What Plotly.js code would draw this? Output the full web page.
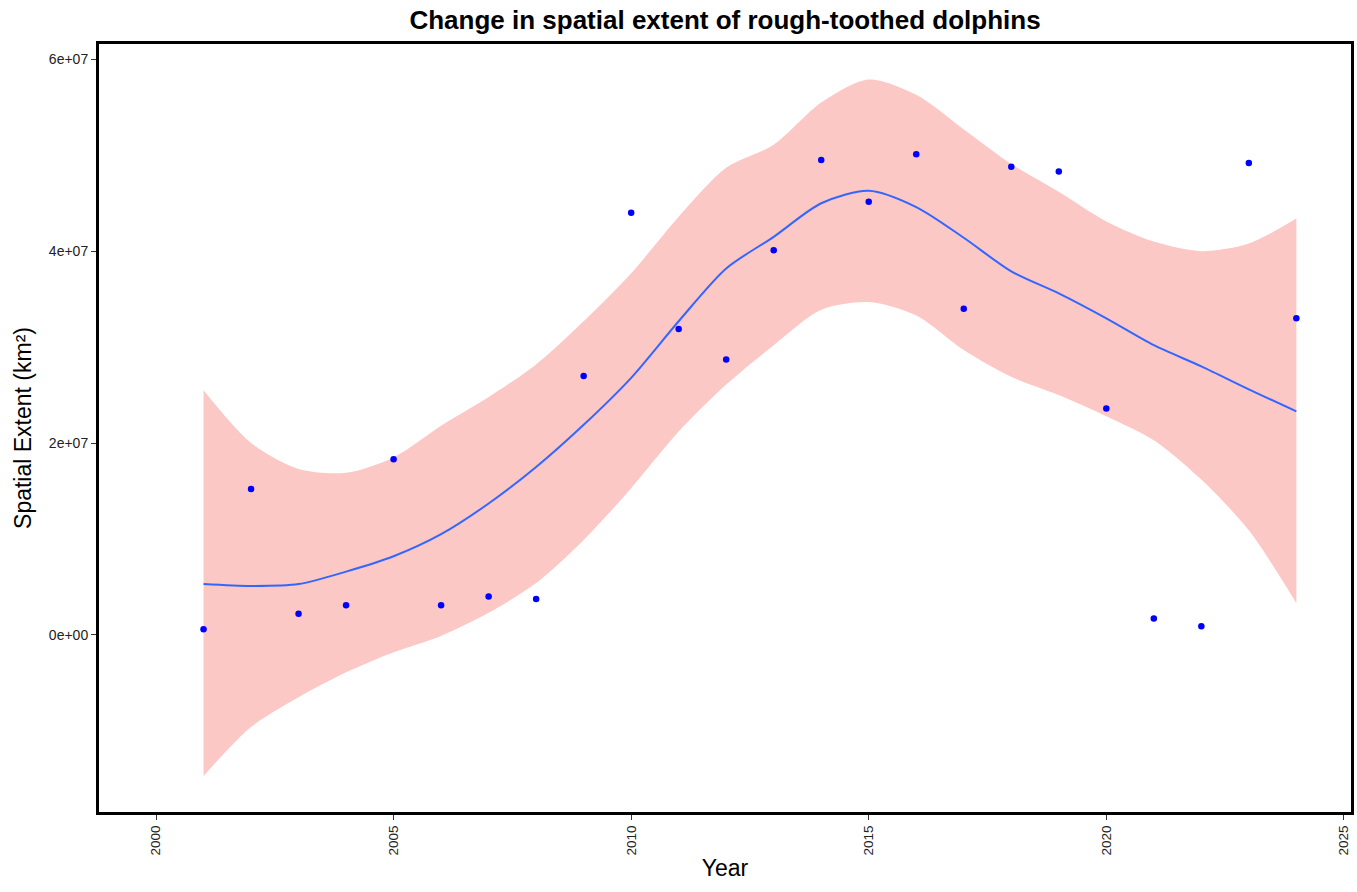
<!DOCTYPE html>
<html>
<head>
<meta charset="utf-8">
<script src="https://cdn.plot.ly/plotly-3.0.1.min.js"></script>
<style>
  html, body { margin: 0; padding: 0; background: #fff; }
  #chart { width: 1357px; height: 892px; }
</style>
</head>
<body>
<div id="chart"></div>
<script>
// Observed yearly spatial extent (km²)
const years = [2001, 2002, 2003, 2004, 2005, 2006, 2007, 2008, 2009, 2010, 2011, 2012,
               2013, 2014, 2015, 2016, 2017, 2018, 2019, 2020, 2021, 2022, 2023, 2024];
const extent = [0.06e7, 1.52e7, 0.22e7, 0.31e7, 1.83e7, 0.31e7, 0.40e7, 0.375e7, 2.70e7, 4.40e7, 3.19e7, 2.87e7,
                4.01e7, 4.95e7, 4.515e7, 5.01e7, 3.40e7, 4.88e7, 4.83e7, 2.36e7, 0.17e7, 0.09e7, 4.92e7, 3.30e7];

// Smoothed trend and its confidence band, sampled at each year
const smoothYears = [2001, 2002, 2003, 2004, 2005, 2006, 2007, 2008, 2009, 2010, 2011, 2012,
                     2013, 2014, 2015, 2016, 2017, 2018, 2019, 2020, 2021, 2022, 2023, 2024];
const smoothFit = [0.53e7, 0.51e7, 0.53e7, 0.66e7, 0.82e7, 1.05e7, 1.37e7, 1.75e7, 2.19e7, 2.68e7, 3.27e7, 3.82e7,
                   4.15e7, 4.50e7, 4.63e7, 4.46e7, 4.14e7, 3.79e7, 3.56e7, 3.30e7, 3.02e7, 2.80e7, 2.56e7, 2.33e7];
const bandUpper = [2.55e7, 2.00e7, 1.73e7, 1.69e7, 1.85e7, 2.18e7, 2.48e7, 2.82e7, 3.27e7, 3.77e7, 4.36e7, 4.87e7,
                   5.11e7, 5.55e7, 5.79e7, 5.63e7, 5.27e7, 4.91e7, 4.62e7, 4.31e7, 4.10e7, 4.00e7, 4.08e7, 4.34e7];
const bandLower = [-1.47e7, -0.96e7, -0.65e7, -0.39e7, -0.18e7, -0.01e7, 0.23e7, 0.54e7, 0.99e7, 1.53e7, 2.12e7, 2.61e7,
                   3.02e7, 3.39e7, 3.47e7, 3.33e7, 2.97e7, 2.69e7, 2.50e7, 2.28e7, 2.03e7, 1.62e7, 1.09e7, 0.33e7];

// Axis ticks
const xTicks = [2000, 2005, 2010, 2015, 2020, 2025];
const yTickVals = [0, 2e7, 4e7, 6e7];
const yTickText = ['0e+00', '2e+07', '4e+07', '6e+07'];

const traces = [
  {
    x: smoothYears, y: bandLower, type: 'scatter', mode: 'lines',
    line: { width: 0, shape: 'spline', smoothing: 0.8 }, hoverinfo: 'skip', showlegend: false
  },
  {
    x: smoothYears, y: bandUpper, type: 'scatter', mode: 'lines', fill: 'tonexty',
    fillcolor: 'rgba(248,118,109,0.4)',
    line: { width: 0, shape: 'spline', smoothing: 0.8 }, hoverinfo: 'skip', showlegend: false
  },
  {
    x: smoothYears, y: smoothFit, type: 'scatter', mode: 'lines',
    line: { color: '#3366FF', width: 2, shape: 'spline', smoothing: 0.8 }, showlegend: false
  },
  {
    x: years, y: extent, type: 'scatter', mode: 'markers',
    marker: { color: '#0000FF', size: 6.5 }, showlegend: false
  }
];

const layout = {
  width: 1357, height: 892,
  margin: { l: 99, r: 6, t: 44, b: 80 },
  paper_bgcolor: '#ffffff', plot_bgcolor: '#ffffff',
  font: { family: 'Liberation Sans, Arial, sans-serif', color: '#000' },
  title: {
    text: '<b>Change in spatial extent of rough-toothed dolphins</b>',
    font: { size: 26, color: '#000' },
    x: 0.5, xref: 'paper', xanchor: 'center', y: 0.978, yanchor: 'middle'
  },
  xaxis: {
    range: [1998.8, 2025.15],
    tickvals: xTicks, ticktext: xTicks.map(String),
    tickangle: -90, tickfont: { size: 13.5, color: '#222' },
    ticks: 'outside', ticklen: 5, tickwidth: 1, tickcolor: '#333',
    showgrid: false, zeroline: false,
    showline: true, linecolor: '#000', linewidth: 3, mirror: true,
    title: { text: 'Year', font: { size: 23, color: '#000' }, standoff: 6 }
  },
  yaxis: {
    range: [-1.846e7, 6.16e7],
    tickvals: yTickVals, ticktext: yTickText,
    tickfont: { size: 14, color: '#222' },
    ticks: 'outside', ticklen: 5, tickwidth: 1, tickcolor: '#333',
    showgrid: false, zeroline: false,
    showline: true, linecolor: '#000', linewidth: 3, mirror: true,
    title: { text: 'Spatial Extent (km²)', font: { size: 23, color: '#000' }, standoff: 11 }
  }
};

Plotly.newPlot('chart', traces, layout, { displayModeBar: false, staticPlot: true });
</script>
</body>
</html>
